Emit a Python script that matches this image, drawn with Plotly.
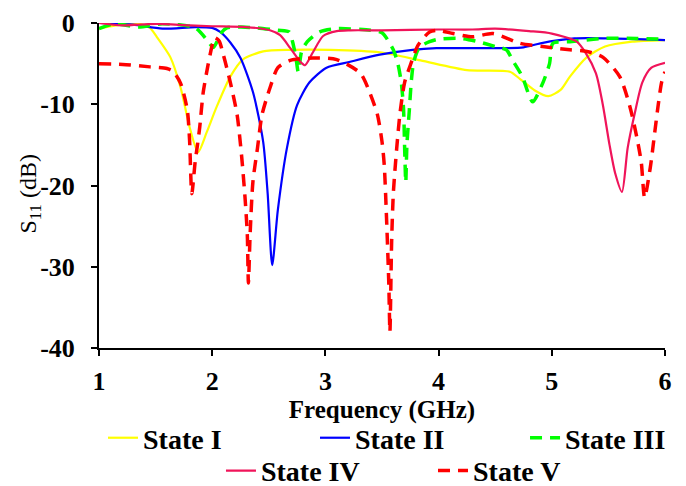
import plotly.graph_objects as go

# ---------------- data ----------------
f_state1 = [1.0, 1.15, 1.3, 1.36, 1.45, 1.51, 1.63, 1.72, 1.80, 1.875, 1.95, 2.04, 2.16, 2.27, 2.45, 2.69,
            3.04, 3.48, 3.84, 4.25, 4.63, 4.72, 4.85, 4.97, 5.08, 5.16, 5.31, 5.47, 5.71, 6.0]
s_state1 = [-0.7, -0.3, -0.05, -0.1, -0.6, -1.7, -4.2, -7.9, -12.8, -15.9, -13.5, -10.3, -6.6, -4.5, -3.5, -3.3,
            -3.3, -3.6, -4.6, -5.8, -6.0, -6.9, -8.3, -9.0, -8.2, -6.6, -4.2, -2.9, -2.3, -2.1]

f_state2 = [1.0, 1.3, 1.56, 1.85, 2.0, 2.07, 2.16, 2.25, 2.36, 2.45, 2.49, 2.53, 2.58, 2.66, 2.75, 2.86,
            3.01, 3.21, 3.48, 3.77, 3.98, 4.36, 4.75, 4.9, 5.2, 5.5, 6.0]
s_state2 = [0.0, -0.2, -0.7, -0.5, -0.6, -1.1, -2.4, -4.3, -8.5, -14.6, -21.0, -29.8, -23.0, -15.4, -10.1, -7.3,
            -5.5, -4.8, -3.9, -3.3, -3.1, -3.1, -3.0, -2.5, -1.9, -1.9, -2.1]

f_state3 = [1.0, 1.14, 1.35, 1.56, 1.85, 1.96, 2.01, 2.08, 2.13, 2.25, 2.4, 2.58, 2.68, 2.71, 2.74, 2.76,
            2.79, 2.84, 2.95, 3.1, 3.4, 3.5, 3.6, 3.64, 3.67, 3.69, 3.70, 3.71, 3.72, 3.74, 3.76, 3.78,
            3.83, 3.92, 4.0, 4.2, 4.35, 4.5, 4.6, 4.65, 4.74, 4.83, 4.92, 4.98, 5.01, 5.16, 5.45, 5.75, 6.0]
s_state3 = [-0.7, -0.1, -0.5, -0.1, -0.6, -2.2, -3.0, -1.2, -0.6, -0.5, -0.6, -0.9, -1.1, -2.3, -4.3, -6.0,
            -3.5, -2.3, -1.1, -0.7, -0.9, -1.2, -3.3, -5.0, -7.3, -10.5, -15.4, -19.6, -15.0, -11.0, -7.0, -4.8,
            -3.0, -2.3, -2.0, -1.9, -2.3, -2.9, -3.3, -4.5, -6.6, -9.7, -7.4, -5.0, -2.5, -2.3, -1.9, -1.9, -2.0]

f_state4 = [1.0, 1.2, 1.5, 1.8, 2.0, 2.3, 2.51, 2.60, 2.69, 2.78, 2.82, 2.89, 2.98, 3.10, 3.22, 3.5,
            4.0, 4.3, 4.5, 4.8, 5.0, 5.22, 5.3, 5.39, 5.45, 5.51, 5.56, 5.62, 5.67, 5.73, 5.8, 5.88, 6.0]
s_state4 = [0.0, -0.3, -0.1, -0.3, -0.4, -0.5, -0.9, -1.5, -3.1, -4.8, -5.2, -3.6, -1.6, -1.0, -0.9, -0.9,
            -0.8, -0.8, -0.7, -1.0, -1.3, -2.3, -3.7, -6.2, -10.0, -15.0, -18.5, -20.8, -15.4, -11.3, -7.3, -5.5, -4.9]

f_state5 = [1.0, 1.21, 1.45, 1.60, 1.65, 1.72, 1.78, 1.80, 1.82, 1.85, 1.87, 1.89, 1.92, 1.96, 2.0, 2.02,
            2.06, 2.10, 2.16, 2.22, 2.26, 2.29, 2.31, 2.32, 2.335, 2.36, 2.40, 2.44, 2.51, 2.58, 2.69, 2.89,
            3.10, 3.31, 3.39, 3.46, 3.50, 3.52, 3.54, 3.56, 3.57, 3.585, 3.60, 3.63, 3.66, 3.70, 3.75, 3.82,
            3.92, 3.99, 4.13, 4.30, 4.48, 4.72, 4.92, 5.16, 5.31, 5.45, 5.60, 5.69, 5.75, 5.79, 5.82, 5.87,
            5.91, 5.94, 5.97, 6.0]
s_state5 = [-5.0, -5.1, -5.4, -5.6, -5.9, -7.4, -10.7, -14.4, -21.0, -17.0, -15.0, -12.8, -8.6, -5.4, -2.7, -1.8,
            -2.2, -4.0, -7.3, -11.3, -16.4, -21.5, -26.0, -32.0, -26.0, -19.5, -15.4, -11.3, -8.0, -5.5, -4.6, -4.3,
            -4.5, -6.2, -8.5, -11.3, -14.6, -17.5, -24.0, -32.0, -38.0, -27.0, -21.0, -15.4, -11.0, -7.3, -5.2, -2.7,
            -1.1, -0.9, -1.3, -1.7, -1.3, -2.5, -2.9, -3.3, -3.5, -4.2, -6.6, -10.3, -14.0, -17.1, -21.5, -17.8,
            -13.4, -10.1, -7.3, -6.0]

series_names = ["State I", "State II", "State III", "State IV", "State V"]
x_ticks = [1, 2, 3, 4, 5, 6]
y_ticks = [-40, -30, -20, -10, 0]
x_title = "Frequency (GHz)"
y_title = "S<sub>11</sub> (dB)"

# ---------------- figure ----------------
FONT = "Liberation Serif"
styles = [
    ("#FFFF00", "solid", 2.2),
    ("#0000FF", "solid", 2.2),
    ("#00FF00", "12px,8px", 3.5),
    ("#F0145A", "solid", 2.2),
    ("#FF0000", "12px,8px", 3.5),
]
data = [(f_state1, s_state1), (f_state2, s_state2), (f_state3, s_state3),
        (f_state4, s_state4), (f_state5, s_state5)]
legend_ids = ["legend", "legend2", "legend3", "legend4", "legend5"]
# legend box positions (paper coords): two centred rows as in the reference
legend_pos = [(0.0071, -0.277), (0.3816, -0.277), (0.7527, -0.277),
              (0.2155, -0.378), (0.5901, -0.378)]

fig = go.Figure()
for name, (xs, ys), (col, dash, w), lg in zip(series_names, data, styles, legend_ids):
    fig.add_trace(go.Scatter(
        x=xs, y=ys, mode="lines", name=name, legend=lg,
        line=dict(color=col, width=w, dash=dash, shape="spline", smoothing=0.7),
    ))

legend_common = dict(
    orientation="h", xanchor="left", yanchor="middle",
    font=dict(family=FONT, size=28, color="black", weight="bold"),
    bgcolor="rgba(0,0,0,0)", itemwidth=30, tracegroupgap=0,
)
legends = {lg: dict(x=px, y=py, **legend_common) for lg, (px, py) in zip(legend_ids, legend_pos)}

fig.update_layout(
    width=686, height=486,
    margin=dict(l=99, r=21, t=23, b=138, autoexpand=False),
    paper_bgcolor="white", plot_bgcolor="white",
    font=dict(family=FONT, color="black"),
    showlegend=True,
    **legends,
    xaxis=dict(
        range=[1, 6], tickvals=x_ticks, ticktext=[str(v) for v in x_ticks],
        showline=True, linecolor="black", linewidth=2, mirror=False,
        ticks="outside", ticklen=6, tickwidth=2, tickcolor="black",
        showgrid=False, zeroline=False,
        tickfont=dict(family=FONT, size=26, color="black", weight="bold"),
        ticklabelstandoff=3,
        title=dict(text=x_title, standoff=0,
                   font=dict(family=FONT, size=25, color="black", weight="bold")),
        automargin=False,
    ),
    yaxis=dict(
        range=[-40, 0], tickvals=y_ticks, ticktext=[str(v) for v in y_ticks],
        showline=True, linecolor="black", linewidth=2, mirror=False,
        ticks="outside", ticklen=6, tickwidth=2, tickcolor="black",
        showgrid=False, zeroline=False,
        tickfont=dict(family=FONT, size=26, color="black", weight="bold"),
        ticklabelstandoff=11,
        automargin=False,
    ),
    annotations=[dict(
        text=y_title, textangle=-90, xref="paper", yref="paper",
        x=-0.122, y=0.475, xanchor="center", yanchor="middle", showarrow=False,
        font=dict(family=FONT, size=24, color="black"),
    )],
)

fig.write_html(
    "out.html",
    config={"displayModeBar": False},
    post_script="document.body.style.margin='0';document.documentElement.style.overflow='hidden';",
)
